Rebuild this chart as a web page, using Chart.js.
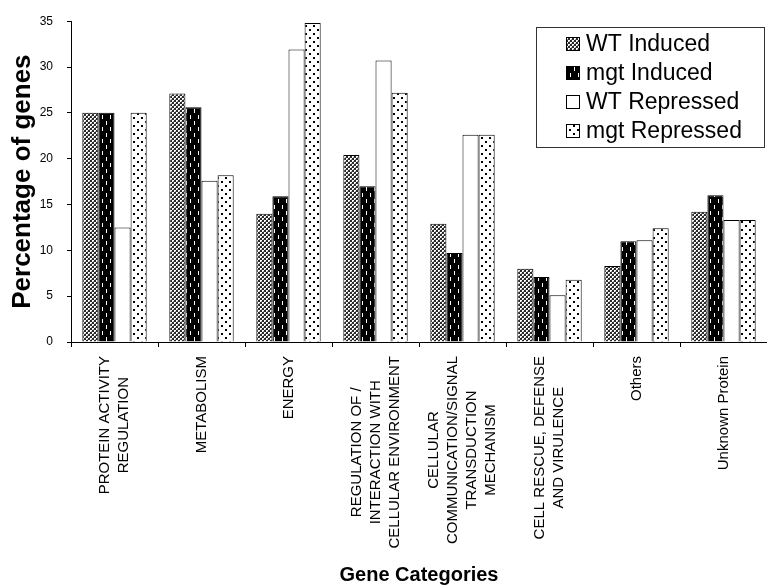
<!DOCTYPE html>
<html>
<head>
<meta charset="utf-8">
<script src="https://cdn.jsdelivr.net/npm/chart.js@4/dist/chart.umd.min.js"></script>
<style>
  body { margin: 0; background: #fff; }
  canvas { display: block; }
</style>
</head>
<body>
<canvas id="myChart" width="767" height="588"></canvas>
<script>
// gene categories (one entry per line of the tick label)
let categories = [
  ['PROTEIN ACTIVITY', 'REGULATION'],
  ['METABOLISM'],
  ['ENERGY'],
  ['REGULATION OF /', 'INTERACTION WITH', 'CELLULAR ENVIRONMENT'],
  ['CELLULAR', 'COMMUNICATION/SIGNAL', 'TRANSDUCTION', 'MECHANISM'],
  ['CELL RESCUE, DEFENSE', 'AND VIRULENCE'],
  ['Others'],
  ['Unknown Protein']
];
let seriesNames = ['WT Induced', 'mgt Induced', 'WT Repressed', 'mgt Repressed'];
let wtInduced    = [25, 27.1, 14.0, 20.4, 12.9, 8.0, 8.3, 14.2];
let mgtInduced   = [25, 25.6, 15.9, 17.0, 9.7, 7.1, 11.0, 16.0];
let wtRepressed  = [12.5, 17.6, 31.9, 30.7, 22.6, 5.1, 11.1, 13.3];
let mgtRepressed = [25, 18.2, 34.8, 27.2, 22.6, 6.8, 12.4, 13.3];
let yTicks = [0, 5, 10, 15, 20, 25, 30, 35];

const FONT = '"Liberation Sans", Arial, sans-serif';

// small tiled fills for the bars
function makePattern(w, h, draw) {
  let c = document.createElement('canvas');
  c.width = w; c.height = h;
  let g = c.getContext('2d');
  draw(g);
  return g.createPattern(c, 'repeat');
}

let stipple = makePattern(4, 4, g => {
  g.fillStyle = '#2a2a2a';
  g.fillRect(0, 0, 4, 4);
  g.fillStyle = '#fff';
  g.fillRect(0, 0, 2, 2);
  g.fillRect(2, 2, 2, 2);
  g.fillStyle = '#999';
  g.fillRect(1, 1, 1, 1);
  g.fillRect(3, 3, 1, 1);
});
let blackDashed = makePattern(8, 12, g => {
  g.fillStyle = '#000';
  g.fillRect(0, 0, 8, 12);
  g.fillStyle = '#fff';
  g.fillRect(2, 1, 1, 4);
  g.fillRect(6, 7, 1, 4);
});
let whiteDots = makePattern(8, 8, g => {
  g.fillStyle = '#fff';
  g.fillRect(0, 0, 8, 8);
  g.fillStyle = '#000';
  g.fillRect(1, 1, 2, 2);
  g.fillRect(5, 5, 2, 2);
});
let fills = [stipple, blackDashed, '#fff', whiteDots];

// x tick labels: each line centred, block hanging just under the axis
const categoryLabels = {
  id: 'categoryLabels',
  afterDraw(chart) {
    let ctx = chart.ctx;
    let xs = chart.scales.x;
    ctx.save();
    ctx.font = '15px ' + FONT;
    ctx.fillStyle = '#000';
    ctx.textAlign = 'center';
    ctx.textBaseline = 'middle';
    categories.forEach((lines, i) => {
      let cx = xs.getPixelForValue(i);
      let maxLen = Math.max(...lines.map(l => ctx.measureText(l).width));
      let midY = xs.top + 14 + maxLen / 2;
      lines.forEach((line, j) => {
        let lx = cx + (j - (lines.length - 1) / 2) * 19;
        ctx.save();
        ctx.translate(lx, midY);
        ctx.rotate(-Math.PI / 2);
        ctx.fillText(line, 0, 0);
        ctx.restore();
      });
    });
    ctx.restore();
  }
};

// boxed legend in the upper right corner
const boxLegend = {
  id: 'boxLegend',
  afterDraw(chart) {
    let ctx = chart.ctx;
    ctx.save();
    ctx.fillStyle = '#fff';
    ctx.fillRect(536, 27, 228, 120);
    ctx.strokeStyle = '#333';
    ctx.lineWidth = 1;
    ctx.strokeRect(536.5, 27.5, 228, 120);
    ctx.font = '23px ' + FONT;
    ctx.textBaseline = 'middle';
    chart.data.datasets.forEach((ds, i) => {
      let y = 44 + i * 29;
      ctx.fillStyle = ds.backgroundColor;
      ctx.fillRect(566, y - 7, 14, 14);
      ctx.strokeStyle = '#000';
      ctx.strokeRect(566.5, y - 6.5, 13, 13);
      ctx.fillStyle = '#000';
      ctx.fillText(ds.label, 586, y + 1);
    });
    ctx.restore();
  }
};

let allSeries = [wtInduced, mgtInduced, wtRepressed, mgtRepressed];

let ctx = document.getElementById('myChart').getContext('2d');
let myChart = new Chart(ctx, {
  type: 'bar',
  data: {
    labels: categories.map(l => l.join(' ')),
    datasets: allSeries.map((vals, i) => ({
      label: seriesNames[i],
      data: vals,
      backgroundColor: fills[i],
      borderColor: '#000',
      borderWidth: 1,
      borderSkipped: 'bottom',
      categoryPercentage: 0.74,
      barPercentage: 1.0
    }))
  },
  options: {
    responsive: false,
    animation: false,
    layout: { padding: { top: 7, right: 0, left: 0, bottom: 0 } },
    plugins: {
      legend: { display: false },
      tooltip: { enabled: false }
    },
    scales: {
      x: {
        afterFit: s => { s.height = 246; },
        grid: { drawOnChartArea: false, color: '#000', tickLength: 5, offset: true },
        border: { color: '#000', width: 1 },
        ticks: { display: false },
        title: {
          display: true,
          text: 'Gene Categories',
          color: '#000',
          font: { family: FONT, size: 20, weight: 'bold' },
          padding: { top: 0, bottom: 1 }
        }
      },
      y: {
        min: 0,
        max: 35,
        afterFit: s => { s.width = 71; },
        afterBuildTicks: s => { s.ticks = yTicks.map(v => ({ value: v })); },
        grid: { drawOnChartArea: false, color: '#000', tickLength: 4 },
        border: { color: '#000', width: 1 },
        ticks: {
          color: '#000',
          padding: 14,
          font: { family: FONT, size: 12 }
        },
        title: {
          display: true,
          text: 'Percentage of genes',
          color: '#000',
          font: { family: FONT, size: 26, weight: 'bold' },
          padding: { top: 7, bottom: 0 }
        }
      }
    }
  },
  plugins: [categoryLabels, boxLegend]
});
</script>
</body>
</html>
